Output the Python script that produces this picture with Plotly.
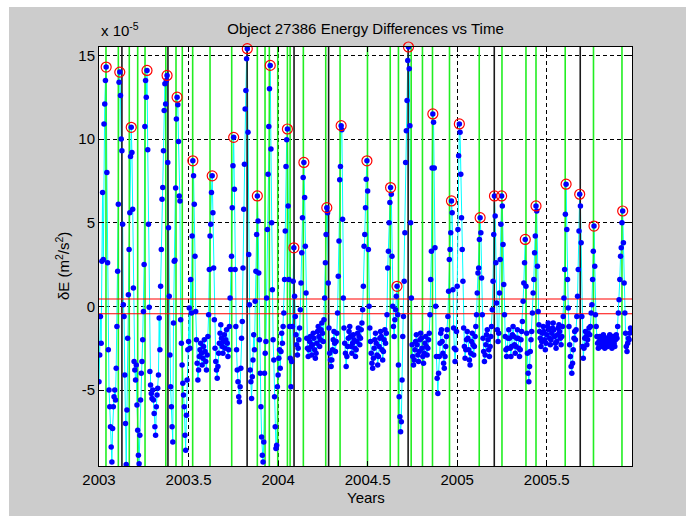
import plotly.graph_objects as go

# ---------------- data ----------------
t_start = 2003.0          # first sample (years)
dt_years = 0.004          # sampling interval (years)

# energy differences (units of 1e-5 m^2/s^2), 25 samples per 0.1 yr
dE_2003 = [
    -4.5, -2.9, -0.6, -2.2, 2.7, 6.8, 2.8, 10.9, 12.1, 13.5, 14.3, 8.0, 2.6, -2.6, -5.0, -6.0, -7.2, -8.4, -9.3, -7.3, -6.0, -5.4, -5.0, -5.6, -3.7,
    -1.2, 2.1, 6.1, 13.4, 14.0, 12.6, 10.0, 9.3, 4.9, 0.1, -0.6, -4.1, -7.0, -9.45, -6.2, -1.9, 0.7, 3.4, 5.6, 8.96, 10.7, 9.2, 5.8, 1.1, -3.3,
    -3.8, -4.4, -3.5, -5.9, -7.4, -8.9, -9.4, -7.7, -5.6, -4.0, -3.3, -2.0, -0.3, 2.5, 10.75, 13.5, 12.5, 14.1, 9.36, 4.9, -0.05, -3.9, -4.7, -5.2, -5.5,
    -5.0, -5.6, -6.4, -7.2, -7.7, -6.0, -5.3, -4.9, -4.1, -0.7, -2.6, 1.2, 3.4, 6.4, 7.1, 9.3, 11.7, 13.3, 12.1, 13.5, 13.8, 8.6, 4.7, 0.6, -2.9,
    -4.8, -6.0, -7.2, -8.1, -1.0, 2.7, 2.75, 7.07, 11.2, 12.5, 12.05, 9.86, 6.6, 6.3, -0.8, -2.2, -3.5, -4.6, -5.3, -6.0, -7.7, -8.6, -6.5, -4.4, -2.6,
    -2.1, -0.1, -2.5, 1.6, -0.4, 4.2, 8.7, 7.8, 6.1, 3.0, -0.3, -2.0, -3.4, -4.4, -3.8, -3.0, -2.6, -2.2, -2.8, -3.5, -3.1, -2.4, -2.0, -2.7, -3.3,
    -3.8, -2.9, -1.8, -0.5, 2.2, 4.2, 4.9, 6.8, 7.8, 5.6, 2.3, -0.8, -2.5, -3.3, -3.8, -4.3, -3.6, -2.8, -2.2, -1.6, -1.1, -1.9, -2.4, -2.8, -2.1,
    -1.7, -2.5, -2.0, -1.4, -2.2, -3.0, -2.6, -1.2, 0.5, 2.2, 3.0, 5.9, 8.4, 10.1, 7.0, 2.2, -1.2, -2.6, -3.8, -4.5, -5.4, -5.7, -4.8, -3.7, -1.9,
    -0.9, 2.3, 5.8, 8.5, 11.8, 12.9, 14.8, 15.4, 10.4, 3.1, 0.1, -3.8, -4.5, -5.5, -4.2, -3.2, -1.7, -2.6, 0.3, 2.1, 4.3, 6.6, 5.1, 2.0, -2.0,
    -4.0, -6.0, -7.8, -8.9, -9.3, -8.1, -4.0, -2.8, -2.1, 0.5, 4.6, 7.9, 10.75, 13.0, 14.4, 9.4, 5.0, 1.0, -2.0, -3.2, -5.4, -7.2, -8.5, -8.3, -4.8,
]
dE_2004 = [
    -4.1, -3.1, -2.6, -3.7, -2.7, -1.6, -2.2, -1.2, -0.4, 1.6, 4.5, 8.36, 9.96, 10.6, 6.0, 1.6, -1.2, -3.1, -4.8, -3.3, -1.2, 1.5, 3.5, 0.6, -0.6,
    -1.7, -2.3, -2.9, -2.5, -2.0, -1.3, -0.2, 1.4, 3.2, 5.3, 7.7, 8.6, 6.5, 3.6, 0.8, -1.9, -2.5, -3.0, -2.6, -2.1, -1.8, -2.4, -2.9, -2.3, -1.6,
    -1.9, -2.6, -3.1, -2.8, -2.2, -1.5, -1.2, -1.8, -2.4, -2.0, -1.4, -1.0, -1.6, -2.1, -0.8, 0.5, 2.6, 4.3, 5.9, 5.6, 1.4, -1.3, -2.8, -3.2, -3.6,
    -3.2, -2.6, -2.0, -1.5, -2.2, -2.7, -2.1, -1.6, -0.4, 1.8, 3.9, 7.57, 8.36, 10.8, 10.55, 5.2, 0.5, -1.3, -2.2, -2.8, -3.6, -3.0, -2.4, -1.9, -1.5,
    -1.2, -1.8, -2.4, -2.8, -2.2, -1.7, -2.0, -2.5, -3.0, -2.6, -2.1, -1.6, -1.3, -1.8, -2.3, -1.9, -1.4, -1.0, -0.2, 1.2, 3.6, 4.3, 5.9, 7.6, 8.7,
    6.9, 3.4, 0.0, -1.3, -2.1, -2.8, -3.4, -3.7, -3.1, -2.5, -2.0, -1.6, -2.2, -2.9, -3.5, -3.0, -2.4, -1.9, -1.5, -1.8, -2.6, -3.2, -2.7, -2.0, -1.4,
    -2.2, -1.6, -0.5, 2.3, 3.3, 5.0, 6.2, 7.1, 6.7, 3.0, 0.0, -1.2, -1.8, -0.8, -0.2, 0.6, 1.2, -0.5, -3.5, -5.4, -6.6, -7.5, -6.9, -4.4, -1.8,
    -0.6, 1.5, 4.4, 8.6, 10.5, 12.3, 14.7, 15.5, 14.2, 10.8, 5.0, 0.5, -2.3, -3.0, -3.5, -3.2, -2.6, -2.1, -1.7, -2.3, -2.9, -3.3, -2.7, -2.0, -1.6,
    -1.9, -2.5, -3.0, -3.4, -2.8, -2.2, -1.8, -2.4, -2.9, -2.5, -2.0, -1.6, -0.5, 1.6, 3.3, 8.27, 11.5, 11.0, 8.27, 3.5, 0.0, -3.0, -4.3, -5.2, -4.0,
    -3.0, -2.2, -1.6, -1.4, -2.1, -2.8, -3.4, -3.7, -3.0, -2.4, -1.8, -1.4, -0.6, 0.9, 2.8, 3.4, 4.4, 6.3, 5.6, 1.0, -1.3, -2.5, -3.3, -2.6, -1.5,
]
dE_2005 = [
    1.2, 4.6, 9.0, 10.9, 10.4, 7.9, 5.3, 3.4, 1.5, -1.3, -2.4, -3.1, -2.6, -2.0, -1.5, -1.9, -2.6, -3.2, -3.5, -2.8, -2.1, -1.6, -2.3, -2.9, -2.4,
    -1.8, -1.2, -0.5, 0.8, 2.0, 2.3, 4.0, 5.3, 4.4, 1.7, -0.5, -1.9, -2.7, -3.3, -2.9, -2.3, -1.7, -1.4, -2.0, -2.6, -3.0, -2.4, -1.8, -1.2, -0.2,
    1.5, 4.3, 6.6, 5.4, 2.6, 0.2, -1.4, -2.1, -1.6, 0.8, 2.8, 4.9, 6.6, 6.0, 3.7, 1.3, -0.5, -1.8, -2.6, -3.0, -2.5, -1.9, -1.4, -1.9, -2.5,
    -3.0, -2.4, -1.7, -1.2, -1.8, -2.3, -2.8, -2.4, -1.9, -1.4, -1.9, -2.5, -3.0, -2.6, -2.0, -1.5, -0.9, 0.3, 1.4, 2.6, 4.0, 1.2, -1.6, -2.8, -4.0,
    -4.5, -3.6, -2.7, -2.0, -1.5, -0.4, 0.8, 1.6, 3.2, 4.2, 6.0, 5.7, 2.4, -0.3, -1.1, -1.5, -1.9, -2.4, -2.1, -1.6, -1.2, -1.5, -2.0, -2.6, -2.2,
    -1.7, -1.2, -1.0, -1.4, -1.9, -2.3, -2.0, -1.6, -1.3, -1.0, -1.4, -1.8, -2.2, -2.5, -2.1, -1.7, -1.3, -1.1, -1.5, -1.9, -2.3, -1.8, -1.2, -0.6, 0.5,
    2.2, 5.5, 7.3, 4.6, 1.6, -0.1, -1.2, -2.3, -3.0, -3.6, -4.0, -3.4, -2.6, -1.9, -1.5, -2.0, -1.4, -0.6, 0.6, 2.2, 4.5, 6.7, 6.0, 3.8, -0.6,
    -2.4, -3.1, -2.5, -1.9, -1.5, -1.8, -2.3, -2.0, -1.6, -1.3, -1.7, -1.2, -0.4, 0.1, 1.6, 3.3, 4.8, 2.4, -0.5, -1.2, -1.8, -2.2, -2.5, -2.1, -1.8,
    -2.0, -2.4, -2.2, -1.9, -1.7, -2.1, -2.5, -2.3, -1.9, -2.0, -2.4, -2.2, -1.8, -1.7, -2.0, -2.3, -2.5, -2.1, -1.8, -2.2, -2.4, -2.0, -1.7, -1.9, -1.2,
    -0.4, 0.4, 1.6, 3.0, 3.5, 5.0, 5.7, 3.8, 1.4, -0.4, -1.6, -2.4, -2.7, -2.2, -1.9, -2.0, -1.6, -1.3, -1.5, -1.4,
]

# sample indices of the circled peaks
peak_idx = [10, 29, 45, 67, 95, 109, 131, 158, 188, 207, 221, 239, 263, 272, 286,
            318, 338, 374, 407, 416, 432, 466, 492, 503, 532, 552, 562, 595, 610,
            652, 671, 691, 731]

# event markers (years)
green_years = [2003.039, 2003.108, 2003.169, 2003.216, 2003.257, 2003.373, 2003.430,
               2003.465, 2003.523, 2003.620, 2003.741, 2003.884, 2003.927, 2003.951,
               2003.998, 2004.052, 2004.067, 2004.141, 2004.266, 2004.346, 2004.499,
               2004.626, 2004.672, 2004.743, 2004.806, 2004.862, 2004.957, 2005.123,
               2005.250, 2005.384, 2005.440, 2005.603, 2005.761, 2005.920]
black_years = [2003.128, 2003.385, 2003.827, 2004.089, 2004.282, 2004.726, 2005.207, 2005.687]

red_levels = [0.44, -0.44]

xtick_vals = [2003, 2003.5, 2004, 2004.5, 2005, 2005.5]
xtick_text = ["2003", "2003.5", "2004", "2004.5", "2005", "2005.5"]
ytick_vals = [-5, 0, 5, 10, 15]
ytick_text = ["-5", "0", "5", "10", "15"]
y_range = [-9.54, 15.5]

# ---------------- build ----------------
dE = dE_2003 + dE_2004 + dE_2005
t = [t_start + dt_years * i for i in range(len(dE))]
x_range = [t[0], t[-1]]

FONT = "Liberation Sans, Arial, Helvetica, sans-serif"

fig = go.Figure()

fig.add_trace(go.Scatter(x=t, y=dE, mode="lines",
                         line=dict(color="#00ffff", width=1), hoverinfo="skip"))

gx, gy = [], []
for g in green_years:
    gx += [g, g, None]
    gy += [y_range[0], y_range[1], None]
fig.add_trace(go.Scatter(x=gx, y=gy, mode="lines",
                         line=dict(color="#22ee22", width=1.6), hoverinfo="skip"))

bx, by = [], []
for b in black_years:
    bx += [b, b, None]
    by += [y_range[0], y_range[1], None]
fig.add_trace(go.Scatter(x=bx, y=by, mode="lines",
                         line=dict(color="#1a1a1a", width=1.6), hoverinfo="skip"))

rx, ry = [], []
for lv in red_levels:
    rx += [x_range[0], x_range[1], None]
    ry += [lv, lv, None]
fig.add_trace(go.Scatter(x=rx, y=ry, mode="lines",
                         line=dict(color="#ff0000", width=1.2), hoverinfo="skip"))

fig.add_trace(go.Scatter(x=t, y=dE, mode="markers",
                         marker=dict(color="#0000ff", size=5.5, line=dict(width=0))))

fig.add_trace(go.Scatter(x=[t[k] for k in peak_idx], y=[dE[k] for k in peak_idx],
                         mode="markers", cliponaxis=False,
                         marker=dict(symbol="circle-open", color="#ff0000", size=10,
                                     line=dict(width=1.2, color="#ff0000"))))

axis_common = dict(
    showline=True, linecolor="black", linewidth=1, mirror="ticks",
    ticks="inside", ticklen=5, tickcolor="black", tickwidth=1,
    showgrid=True, gridcolor="black", gridwidth=1, griddash="4px,3px",
    zeroline=False, tickfont=dict(family=FONT, size=15, color="black"),
)

fig.update_layout(
    width=686, height=516,
    margin=dict(l=99, r=54, t=47, b=50),
    paper_bgcolor="#cccccc", plot_bgcolor="white",
    showlegend=False,
    font=dict(family=FONT, size=15, color="black"),
    title=dict(text="Object 27386 Energy Differences vs Time", x=0.5, xref="paper",
               xanchor="center", y=1 - 28.5 / 516, yref="container", yanchor="middle",
               font=dict(family=FONT, size=15, color="black")),
    xaxis=dict(range=x_range, tickvals=xtick_vals, ticktext=xtick_text, **axis_common),
    yaxis=dict(range=y_range, tickvals=ytick_vals, ticktext=ytick_text, **axis_common),
    shapes=[
        dict(type="rect", xref="paper", yref="paper", x0=-0.25, x1=-90 / 533,
             y0=-0.25, y1=1.25, fillcolor="white", line=dict(width=0), layer="above"),
        dict(type="rect", xref="paper", yref="paper", x0=-0.25, x1=1.25,
             y0=1 + 40 / 419, y1=1.25, fillcolor="white", line=dict(width=0), layer="above"),
    ],
    annotations=[
        dict(text="x 10<sup>-5</sup>", xref="paper", yref="paper", x=0, y=1 + 6 / 419,
             xanchor="left", yanchor="bottom", showarrow=False,
             font=dict(family=FONT, size=15, color="black")),
        dict(text="δE (m<sup>2</sup>/s<sup>2</sup>)", xref="paper", yref="paper",
             x=-37 / 533, y=(466 - 266) / 419, xanchor="center", yanchor="middle",
             textangle=-90, showarrow=False, font=dict(family=FONT, size=15, color="black")),
        dict(text="Years", xref="paper", yref="paper", x=0.5, y=-31 / 419,
             xanchor="center", yanchor="middle", showarrow=False,
             font=dict(family=FONT, size=15, color="black")),
    ],
)

fig.write_html("out.html")
